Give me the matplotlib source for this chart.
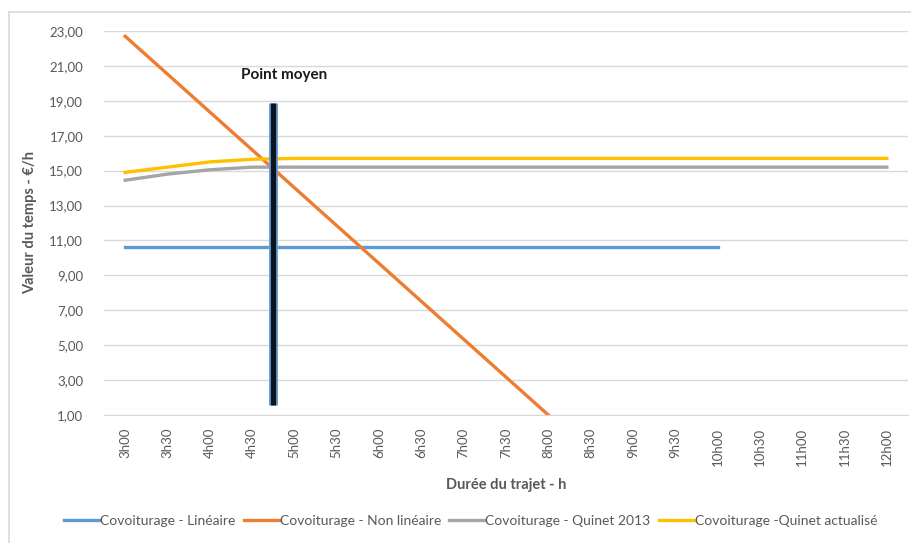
import matplotlib.pyplot as plt
from matplotlib.lines import Line2D

plt.rcParams['font.family'] = ['Lato', 'DejaVu Sans']

# durée du trajet, par pas de 30 min
durees = ['3h00', '3h30', '4h00', '4h30', '5h00', '5h30', '6h00', '6h30', '7h00',
          '7h30', '8h00', '8h30', '9h00', '9h30', '10h00', '10h30', '11h00',
          '11h30', '12h00']

# valeur du temps (€/h) par méthode
lineaire = [10.65] * 15
non_lineaire = [22.7, 20.53, 18.36, 16.19, 14.02, 11.85, 9.68, 7.51, 5.34, 3.17, 1.0]
quinet_2013 = [14.45, 14.8, 15.05, 15.2, 15.2, 15.2, 15.2, 15.2, 15.2, 15.2,
               15.2, 15.2, 15.2, 15.2, 15.2, 15.2, 15.2, 15.2, 15.2]
quinet_actu = [14.9, 15.2, 15.5, 15.65, 15.7, 15.7, 15.7, 15.7, 15.7, 15.7,
               15.7, 15.7, 15.7, 15.7, 15.7, 15.7, 15.7, 15.7, 15.7]

# point moyen : position entre 4h30 et 5h00, bornes verticales
point_moyen_x = 3.5
point_moyen_y = (1.55, 18.9)

yticks = [1, 3, 5, 7, 9, 11, 13, 15, 17, 19, 21, 23]

txt = '#595959'
fig = plt.figure(figsize=(9.12, 5.43), dpi=100)
ax = fig.add_axes([104 / 912, 1 - 415 / 543, 804 / 912, 384 / 543])

# cadre du graphique
fig.add_artist(Line2D([9 / 912, 9 / 912], [0, 1 - 12 / 543], color='#d9d9d9', lw=1.2))
fig.add_artist(Line2D([9 / 912, 1], [1 - 12 / 543, 1 - 12 / 543], color='#d9d9d9', lw=1.2))

lw = 2.4
ax.plot(range(len(lineaire)), lineaire, color='#5b9bd5', lw=lw, label='Covoiturage - Linéaire')
ax.plot(range(len(non_lineaire)), non_lineaire, color='#ed7d31', lw=lw,
        label='Covoiturage - Non linéaire')
ax.plot(range(len(quinet_2013)), quinet_2013, color='#a5a5a5', lw=lw,
        label='Covoiturage - Quinet 2013')
ax.plot(range(len(quinet_actu)), quinet_actu, color='#ffc000', lw=lw,
        label='Covoiturage -Quinet actualisé')

ax.plot([point_moyen_x] * 2, point_moyen_y, color='#6f9fd0', lw=6.5, solid_capstyle='butt', zorder=5)
ax.plot([point_moyen_x] * 2, point_moyen_y, color='#0a1420', lw=3.8, solid_capstyle='butt', zorder=6)
ax.text(point_moyen_x + 0.25, 20.5, 'Point moyen', ha='center', va='center',
        fontsize=11, fontweight='bold', color='#1a1a1a')

ax.set_xlim(-0.5, len(durees) - 0.5)
ax.set_ylim(1, 23)
ax.set_xticks(range(len(durees)))
ax.set_xticklabels(durees, rotation=90)
ax.set_yticks(yticks)
ax.set_yticklabels(['%d,00' % v for v in yticks])
ax.tick_params(length=0, labelsize=9.5, colors=txt)
ax.tick_params(axis='y', pad=15)
ax.tick_params(axis='x', pad=9)
ax.grid(axis='y', color='#d9d9d9', lw=1)
ax.set_axisbelow(True)
for s in ['top', 'right', 'left']:
    ax.spines[s].set_visible(False)
ax.spines['bottom'].set_color('#d9d9d9')

ax.set_xlabel('Durée du trajet - h', fontsize=10.5, fontweight='bold', color=txt, labelpad=9)
ax.set_ylabel('Valeur du temps - €/h', fontsize=10.5, fontweight='bold', color=txt, labelpad=9)

fig.legend(loc='center', bbox_to_anchor=(0.516, 1 - 521 / 543), ncol=4, frameon=False,
           fontsize=10, labelcolor=txt, handlelength=2.6, handletextpad=0.0,
           columnspacing=0.6)

fig.savefig('out.png', dpi=100)
